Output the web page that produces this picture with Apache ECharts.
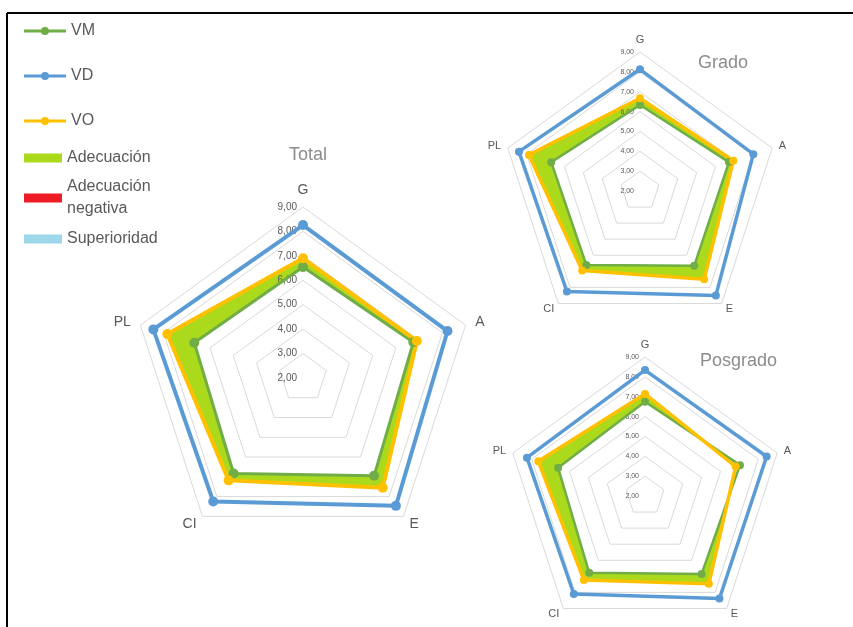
<!DOCTYPE html>
<html>
<head>
<meta charset="utf-8">
<script src="https://cdn.jsdelivr.net/npm/echarts@6/dist/echarts.min.js"></script>
<style>
  html, body { margin: 0; padding: 0; background: #fff; }
  #main { width: 853px; height: 627px; }
</style>
</head>
<body>
<div id="main"></div>
<script>
// ejes en el orden en que se dibujan (ECharts va en sentido antihorario)
const indicators = ['G', 'PL', 'CI', 'E', 'A'];
const axisMin = 2;
const axisMax = 9;

const totalVM = [6.54, 6.68, 6.83, 6.95, 6.75];
const totalVD = [8.26, 8.44, 8.25, 8.47, 8.22];
const totalVO = [6.90, 7.84, 7.18, 7.55, 6.90];

const gradoVM = [6.33, 6.70, 6.60, 6.65, 6.71];
const gradoVD = [8.13, 8.41, 8.26, 8.50, 8.00];
const gradoVO = [6.67, 7.88, 6.95, 7.50, 6.94];

const posgradoVM = [6.75, 6.60, 6.78, 6.85, 7.03];
const posgradoVD = [8.34, 8.25, 8.10, 8.38, 8.44];
const posgradoVO = [7.14, 7.65, 7.23, 7.47, 6.80];

const cVM = '#70ad47', cVD = '#5b9bd5', cVO = '#ffc000';
const cAdec = '#abda1c', cNeg = '#ed1c24', cSup = '#9dd8ea';
const gridColor = '#d9d9d9';
const font = 'Liberation Sans';

let chart = echarts.init(document.getElementById('main'));

function fmt(v) { return v.toFixed(2).replace('.', ','); }

function radarPair(center, radius, nameSize, labelSize, nameGap) {
  let baseInd = indicators.map(function (n) {
    return { name: n, min: axisMin, max: axisMax };
  });
  // solo el eje G lleva etiquetas
  let overInd = indicators.map(function (n, i) {
    return i === 0 ? { name: n, min: axisMin, max: axisMax, axisLabel: { show: true } }
                   : { name: n, min: axisMin, max: axisMax };
  });
  let base = {
    center: center, radius: radius, startAngle: 90, splitNumber: axisMax - axisMin,
    shape: 'polygon', z: 0, nameGap: nameGap,
    indicator: baseInd,
    axisName: { color: '#595959', fontSize: nameSize, fontFamily: font },
    axisLine: { show: false }, axisTick: { show: false },
    axisLabel: { show: false },
    splitArea: { show: false },
    splitLine: { lineStyle: { color: gridColor, width: 1 } }
  };
  // capa encima de la mascara blanca: solo anillos interiores + etiquetas
  let over = {
    center: center, radius: radius, startAngle: 90, splitNumber: axisMax - axisMin,
    shape: 'polygon', z: 1.5,
    indicator: overInd,
    axisName: { show: false },
    axisLine: { show: false }, axisTick: { show: false },
    axisLabel: { show: false, color: '#595959', fontSize: labelSize, fontFamily: font, margin: 6, formatter: fmt },
    splitArea: { show: false },
    splitLine: { lineStyle: { color: [gridColor, gridColor, gridColor, gridColor, gridColor, 'rgba(0,0,0,0)', 'rgba(0,0,0,0)', 'rgba(0,0,0,0)'], width: 1 } }
  };
  return [base, over];
}

function chartSeries(idx, vm, vd, vo, lw, sym) {
  let noEmph = { disabled: true };
  return [
    { type: 'radar', name: 'Adecuación', radarIndex: idx, z: 1, symbol: 'none', silent: true,
      lineStyle: { width: 0, opacity: 0 }, itemStyle: { color: cAdec },
      areaStyle: { color: cAdec, opacity: 1 }, emphasis: noEmph, data: [{ value: vo }] },
    { type: 'radar', name: 'mask', radarIndex: idx, z: 1.2, symbol: 'none', silent: true,
      lineStyle: { width: 0, opacity: 0 }, itemStyle: { color: '#fff' },
      areaStyle: { color: '#fff', opacity: 1 }, emphasis: noEmph, data: [{ value: vm }] },
    { type: 'radar', name: 'VM', radarIndex: idx, z: 2, symbol: 'circle', symbolSize: sym,
      lineStyle: { width: lw - 1, color: cVM }, itemStyle: { color: cVM }, emphasis: noEmph, data: [{ value: vm }] },
    { type: 'radar', name: 'VO', radarIndex: idx, z: 2, symbol: 'circle', symbolSize: sym,
      lineStyle: { width: lw, color: cVO }, itemStyle: { color: cVO }, emphasis: noEmph, data: [{ value: vo }] },
    { type: 'radar', name: 'VD', radarIndex: idx, z: 2, symbol: 'circle', symbolSize: sym,
      lineStyle: { width: lw, color: cVD }, itemStyle: { color: cVD }, emphasis: noEmph, data: [{ value: vd }] }
  ];
}

const lineIcon = 'path://M0,2.5H42V5.5H0Z M17,4A4,4,0,1,1,25,4A4,4,0,1,1,17,4Z';

function legendItem(name, top, icon, color, w, h, formatter) {
  let lg = {
    left: 24, top: top, padding: 0, orient: 'vertical',
    itemWidth: w, itemHeight: h, selectedMode: false,
    textStyle: { color: '#595959', fontSize: 16, fontFamily: font, lineHeight: 22 },
    data: [{ name: name, icon: icon, itemStyle: { color: color, borderWidth: 0 } }]
  };
  if (formatter) lg.formatter = formatter;
  return lg;
}

let radars = []
  .concat(radarPair([303, 378], 171, 14, 10, 10))
  .concat(radarPair([640, 191], 139, 11, 7, 7))
  .concat(radarPair([645, 496], 139, 11, 7, 7));

let series = []
  .concat(chartSeries(0, totalVM, totalVD, totalVO, 4, 10))
  .concat(chartSeries(2, gradoVM, gradoVD, gradoVO, 3.5, 8))
  .concat(chartSeries(4, posgradoVM, posgradoVD, posgradoVO, 3.5, 8))
  .concat([
    { type: 'radar', name: 'Adecuación negativa', radarIndex: 0, itemStyle: { color: cNeg }, data: [] },
    { type: 'radar', name: 'Superioridad', radarIndex: 0, itemStyle: { color: cSup }, data: [] }
  ]);

let option = {
  backgroundColor: '#fff',
  animation: false,
  title: [
    { text: 'Total', left: 303, top: 141, textAlign: 'center', textStyle: { color: '#8c8c8c', fontSize: 18, fontWeight: 'normal', fontFamily: font } },
    { text: 'Grado', left: 693, top: 49, textStyle: { color: '#8c8c8c', fontSize: 18, fontWeight: 'normal', fontFamily: font } },
    { text: 'Posgrado', left: 695, top: 347, textStyle: { color: '#8c8c8c', fontSize: 18, fontWeight: 'normal', fontFamily: font } }
  ],
  legend: [
    legendItem('VM', 20, lineIcon, cVM, 42, 8),
    legendItem('VD', 65, lineIcon, cVD, 42, 8),
    legendItem('VO', 110, lineIcon, cVO, 42, 8),
    legendItem('Adecuación', 147, 'rect', cAdec, 38, 9),
    legendItem('Adecuación negativa', 176, 'rect', cNeg, 38, 9, function () { return 'Adecuación\nnegativa'; }),
    legendItem('Superioridad', 228, 'rect', cSup, 38, 9)
  ],
  radar: radars,
  series: series,
  graphic: [
    { type: 'line', shape: { x1: 7, y1: 13, x2: 853, y2: 13 }, style: { stroke: '#000', lineWidth: 2 } },
    { type: 'line', shape: { x1: 7, y1: 13, x2: 7, y2: 627 }, style: { stroke: '#000', lineWidth: 2 } }
  ]
};

chart.setOption(option);
window.addEventListener('resize', function () {
  chart.resize();
});
</script>
</body>
</html>
